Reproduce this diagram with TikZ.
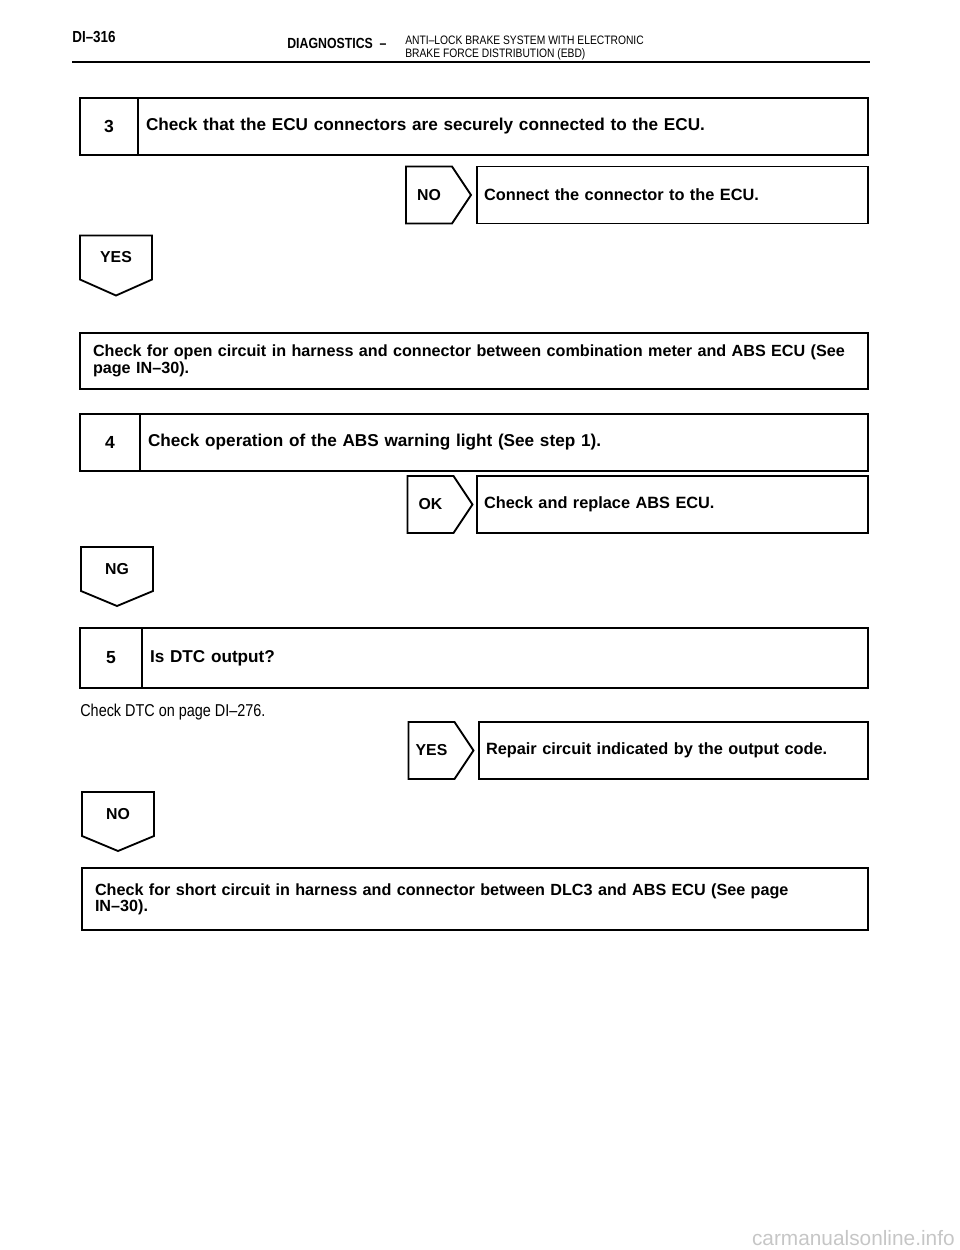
\documentclass[tikz,border=0pt]{standalone}
\usepackage{fontspec}
\setmainfont{Liberation Sans}
\newfontfamily\narrowfont[FakeStretch=0.84]{Liberation Sans}
\usetikzlibrary{positioning}

\begin{document}
\begin{tikzpicture}[x=0.6pt,y=-0.6pt]
        \tikzstyle{frame} = [draw=black, line width=1.1pt, outer sep=0pt]
        \tikzstyle{numcell} = [frame, rectangle, minimum width=34.8pt, minimum height=34.2pt, inner sep=0pt, font=\fontsize{10.5}{12}\selectfont\bfseries]
        \tikzstyle{stepbox} = [frame, rectangle, minimum height=34.2pt, inner xsep=4.8pt, inner ysep=0pt, align=left, font=\fontsize{10.3}{12}\selectfont\bfseries]
        \tikzstyle{subbox} = [frame, rectangle, minimum height=34.2pt, inner xsep=4.2pt, inner ysep=0pt, align=left, text width=226.2pt, font=\fontsize{9.8}{11}\selectfont\bfseries]
        \tikzstyle{infobox} = [frame, rectangle, inner xsep=7.8pt, inner ysep=0pt, align=left, font=\fontsize{9.7}{9.8}\selectfont\bfseries]
        \tikzstyle{tagright} = [rectangle, minimum width=27.6pt, minimum height=34.2pt, inner sep=0pt, outer sep=0pt, font=\fontsize{9.5}{11}\selectfont\bfseries]
        \tikzstyle{tagdown} = [rectangle, minimum width=43.2pt, minimum height=26.4pt, inner sep=0pt, outer sep=0pt, font=\fontsize{9.5}{11}\selectfont\bfseries]
        \tikzstyle{head} = [inner sep=0pt, anchor=west]
        \useasboundingbox (0,0) rectangle (960,1250);
        % page header
        \node (page) [head, font=\fontsize{9.6}{10}\narrowfont\bfseries] at (72,37) {DI–316};
        \node (sect) [head, font=\fontsize{8.8}{9}\narrowfont\bfseries] at (287,43) {DIAGNOSTICS \ –};
        \node (title1) [head, font=\fontsize{7.35}{9}\narrowfont] at (405,40) {ANTI–LOCK BRAKE SYSTEM WITH ELECTRONIC};
        \node (title2) [head, font=\fontsize{7.35}{9}\narrowfont] at (405,54) {BRAKE FORCE DISTRIBUTION (EBD)};
        \coordinate (ruleL) at (72,62);
        \coordinate (ruleR) at (870,62);
        \draw[line width=1.1pt] (ruleL) -- (ruleR);
        % step 3
        \node (n3) [numcell] at (109,126.5) {3};
        \node (s3) [stepbox, right=0pt of n3, text width=428.4pt] {Check that the ECU connectors are securely connected to the ECU.};
        \node (no3) [tagright] at (429,195) {NO};
        \draw[frame] (no3.north west) -- (no3.north east) -- ([xshift=11.4pt]no3.east) -- (no3.south east) -- (no3.south west) -- cycle;
        \node (c3) [subbox] at (672.5,195) {Connect the connector to the ECU.};
        \node (yes3) [tagdown] at (116,257.5) {YES};
        \draw[frame] (yes3.north west) -- (yes3.north east) -- (yes3.south east) -- ([yshift=-9.6pt]yes3.south) -- (yes3.south west) -- cycle;
        \node (open) [infobox, minimum height=33.6pt, text width=457.2pt] at (474,361) {Check for open circuit in harness and connector between combination meter and ABS ECU (See\\page IN–30).};
        % step 4
        \node (n4) [numcell, minimum width=36pt] at (110,442.5) {4};
        \node (s4) [stepbox, right=0pt of n4, text width=427.2pt] {Check operation of the ABS warning light (See step 1).};
        \node (ok4) [tagright] at (430.5,504.5) {OK};
        \draw[frame] (ok4.north west) -- (ok4.north east) -- ([xshift=11.4pt]ok4.east) -- (ok4.south east) -- (ok4.south west) -- cycle;
        \node (r4) [subbox] at (672.5,504.5) {Check and replace ABS ECU.};
        \node (ng4) [tagdown] at (117,569) {NG};
        \draw[frame] (ng4.north west) -- (ng4.north east) -- (ng4.south east) -- ([yshift=-9pt]ng4.south) -- (ng4.south west) -- cycle;
        % step 5
        \node (n5) [numcell, minimum width=37.2pt, minimum height=36pt] at (111,658) {5};
        \node (s5) [stepbox, right=0pt of n5, minimum height=36pt, text width=426pt] {Is DTC output?};
        \node (dtc) [head, font=\fontsize{10.3}{11}\narrowfont] at (80,712) {Check DTC on page DI–276.};
        \node (yes5) [tagright] at (431.5,750.5) {YES};
        \draw[frame] (yes5.north west) -- (yes5.north east) -- ([xshift=11.4pt]yes5.east) -- (yes5.south east) -- (yes5.south west) -- cycle;
        \node (rep5) [subbox, text width=225pt] at (673.5,750.5) {Repair circuit indicated by the output code.};
        \node (no5) [tagdown] at (118,814) {NO};
        \draw[frame] (no5.north west) -- (no5.north east) -- (no5.south east) -- ([yshift=-9pt]no5.south) -- (no5.south west) -- cycle;
        \node (short) [infobox, minimum height=37.2pt, text width=456pt] at (475,899) {Check for short circuit in harness and connector between DLC3 and ABS ECU (See page\\IN–30).};
        % watermark
        \node (mark) [head, anchor=east, text=gray!45, font=\fontsize{12.5}{14}\selectfont] at (955,1238) {carmanualsonline.info};
\end{tikzpicture}
\end{document}
